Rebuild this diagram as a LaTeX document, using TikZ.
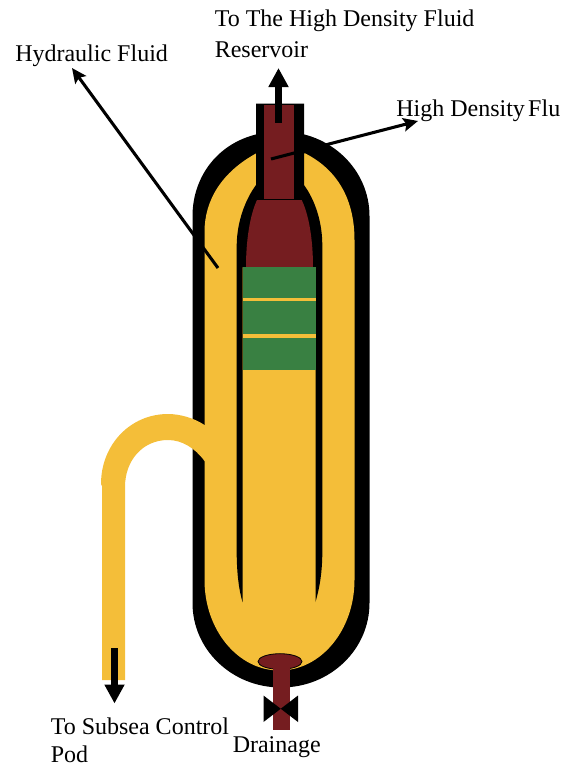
\documentclass[tikz,border=0pt]{standalone}
\usepackage{fontspec}
\setmainfont{Liberation Serif}
\usetikzlibrary{arrows.meta,positioning,calc}
\definecolor{fluidyellow}{RGB}{244,190,57}
\definecolor{densered}{RGB}{117,29,32}
\definecolor{pistongreen}{RGB}{57,128,66}

\begin{document}
\begin{tikzpicture}[
  x=0.75pt,y=-0.75pt,
  label/.style={anchor=base west,inner sep=0pt,font=\fontsize{18pt}{20pt}\selectfont},
  thinarrow/.style={-{Stealth[length=11pt,width=10pt,inset=2pt]},line width=2.3pt},
  fatarrow/.style={-{Triangle[length=14.25pt,width=14.25pt]},line width=5.25pt}
]
  \useasboundingbox (0,0) rectangle (568,765);

  % shell
  \fill[black] (192.5,216) .. controls (192.5,172) and (225,131.5) .. (281,131.5)
    .. controls (330,131.5) and (369.5,169.3) .. (369.5,216) -- (369.5,603)
    .. controls (369.5,649.7) and (330,687.5) .. (281,687.5)
    .. controls (232,687.5) and (192.5,649.7) .. (192.5,603) -- cycle;
  \fill[fluidyellow] (204.5,232) .. controls (204.5,200) and (222,172) .. (256.3,153.3)
    -- (305,153.3) .. controls (338,170) and (354.5,200) .. (354.5,240) -- (354.5,580)
    .. controls (354.5,630) and (321,670.5) .. (279.5,670.5)
    .. controls (238,670.5) and (204.5,630) .. (204.5,580) -- cycle;

  % feed line
  \fill[fluidyellow] (102,680) -- (102,486) -- (101,484)
    .. controls (101,445) and (130,414) .. (168,414)
    .. controls (180,414) and (194,418) .. (204.5,425) -- (208,425) -- (208,461) -- (204.5,461)
    .. controls (195,448) and (182,440) .. (168,440)
    .. controls (143,440) and (125,460) .. (125,487) -- (125,680) -- cycle;

  % inner tube
  \fill[black] (256,103.5) -- (304,103.5) -- (304,185)
    .. controls (315,200) and (322.3,222) .. (322.3,245) -- (322.3,555)
    .. controls (322,575) and (319,590) .. (315.5,602) -- (315.5,267) -- (242.5,267) -- (242.5,602)
    .. controls (239,590) and (237,575) .. (236.7,555) -- (236.7,245)
    .. controls (237,222) and (245,200) .. (256,185) -- cycle;
  \fill[densered] (264.3,105) rectangle (294,199);
  \fill[densered] (257,200) -- (301.7,200) .. controls (309,215) and (313,240) .. (313,267)
    -- (246,267) .. controls (246,240) and (250,215) .. (257,200) -- cycle;

  % piston
  \fill[pistongreen] (242.5,267) rectangle (316,370);
  \fill[fluidyellow] (242.5,298.3) rectangle (316,301);
  \fill[fluidyellow] (242.5,333.5) rectangle (316,337.5);

  % drain
  \fill[densered] (273,662) rectangle (290,730);
  \draw[black,fill=densered,line width=0.6pt] (280,661.5) ellipse [x radius=22,y radius=7.8];
  \fill[densered] (273,664) rectangle (290,680);
  \fill[black] (263.5,695.5) -- (298,722) -- (298,695.5) -- (263.5,722) -- cycle;

  % labels
  \node[label] (reservoir1) at (214.5,26) {To The High Density Fluid};
  \node[label] (reservoir2) at (214.5,57.5) {Reservoir};
  \node[label] (hydraulic) at (15,61) {Hydraulic Fluid};
  \node[label] (density) at (396,116.5) {High Density\hspace{2.5pt}Flu};
  \node[label] (subsea1) at (50.5,734) {To Subsea Control};
  \node[label] (subsea2) at (50.5,762) {Pod};
  \node[label] (drainage) at (232.5,752) {Drainage};

  % pointers
  \coordinate (upstart) at (278.5,122.7);
  \coordinate (uptip) at (278.5,68);
  \coordinate (downstart) at (114.5,648);
  \coordinate (downtip) at (114.5,703.5);
  \coordinate (hydstart) at (218,268);
  \coordinate (hydtip) at (72,68);
  \coordinate (denstart) at (271,159);
  \coordinate (dentip) at (418,121);
  \draw[fatarrow] (upstart) -- (uptip);
  \draw[fatarrow] (downstart) -- (downtip);
  \draw[thinarrow] (hydstart) -- (hydtip);
  \draw[thinarrow] (denstart) -- (dentip);
\end{tikzpicture}
\end{document}
